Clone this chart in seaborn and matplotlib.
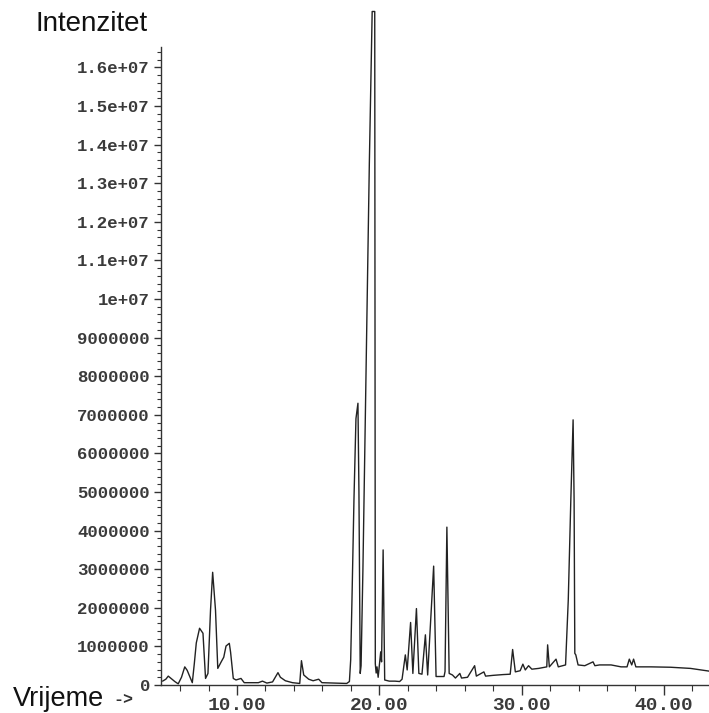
import matplotlib
matplotlib.use("Agg")
import matplotlib.pyplot as plt
from matplotlib.ticker import MultipleLocator, FuncFormatter
import pandas as pd
import seaborn as sns


# retention time (min) and detector signal (millions of counts)
time_min = [
    4.77, 5.0, 5.17, 5.4, 5.63, 5.87, 6.1, 6.33, 6.5, 6.68, 6.86,
    7.0, 7.14, 7.37, 7.61, 7.79, 7.96, 8.14, 8.29, 8.49, 8.65,
    8.89, 9.07, 9.23, 9.46, 9.55, 9.74, 9.93, 10.1, 10.28, 10.51,
    11.0, 11.5, 11.79, 12.1, 12.5, 12.88, 13.05, 13.4, 13.9, 14.41,
    14.53, 14.69, 15.04, 15.35, 15.74, 15.97, 16.8, 17.71, 17.9,
    17.99, 18.08, 18.22, 18.36, 18.5, 18.57, 18.66, 18.72, 18.85,
    19.0, 19.15, 19.3, 19.5, 19.68, 19.7, 19.72, 19.78, 19.84, 19.92,
    20.1, 20.16, 20.27, 20.38, 20.7, 21.1, 21.43, 21.6, 21.83, 21.96,
    22.2, 22.36, 22.61, 22.78, 23.0, 23.24, 23.4, 23.82, 23.99, 24.3,
    24.55, 24.62, 24.75, 24.91, 25.14, 25.35, 25.66, 25.78, 26.2, 26.7,
    26.82, 27.35, 27.47, 28.0, 28.7, 29.2, 29.37, 29.56, 29.9, 30.09,
    30.26, 30.49, 30.72, 31.2, 31.77, 31.83, 31.95, 32.42, 32.58, 33.09,
    33.28, 33.46, 33.62, 33.69, 33.74, 33.81, 33.97, 34.44, 35.02, 35.15,
    35.48, 35.83, 36.29, 36.99, 37.41, 37.57, 37.74, 37.87, 38.03, 39.08,
    40.47, 41.87, 43.17,
]
signal_m = [
    0.10, 0.15, 0.23, 0.16, 0.09, 0.03, 0.20, 0.47, 0.38, 0.22, 0.06,
    0.55, 1.09, 1.47, 1.34, 0.17, 0.30, 1.94, 2.92, 1.94, 0.43,
    0.60, 0.72, 1.01, 1.08, 0.85, 0.17, 0.13, 0.15, 0.17, 0.06,
    0.06, 0.06, 0.10, 0.05, 0.08, 0.32, 0.20, 0.11, 0.06, 0.04,
    0.63, 0.26, 0.15, 0.11, 0.15, 0.06, 0.05, 0.04, 0.09,
    0.65, 2.20, 4.80, 6.90, 7.30, 5.00, 0.30, 0.50, 3.00,
    6.50, 10.0, 13.5, 17.45, 17.45, 9.00, 0.55, 0.31, 0.47, 0.20,
    0.86, 0.60, 3.50, 0.13, 0.10, 0.10, 0.09, 0.15, 0.78, 0.39,
    1.62, 0.30, 1.98, 0.30, 0.28, 1.30, 0.26, 3.08, 0.22, 0.22,
    0.22, 0.35, 4.09, 0.30, 0.26, 0.18, 0.30, 0.18, 0.20, 0.50,
    0.23, 0.34, 0.23, 0.25, 0.27, 0.28, 0.92, 0.34, 0.37, 0.54,
    0.39, 0.50, 0.41, 0.43, 0.47, 1.04, 0.47, 0.67, 0.47, 0.52,
    2.20, 4.80, 6.87, 4.80, 0.82, 0.78, 0.52, 0.50, 0.60, 0.50,
    0.52, 0.52, 0.52, 0.47, 0.47, 0.67, 0.52, 0.67, 0.47, 0.47,
    0.46, 0.43, 0.36,
]

y_max = 16.53e6
x_lim = (4.66, 43.17)

df = pd.DataFrame({"time": time_min, "intensity": [v * 1e6 for v in signal_m]})

sns.set_style("ticks")
plt.rcParams["font.family"] = ["Liberation Sans", "DejaVu Sans"]

fig = plt.figure(figsize=(7.09, 7.13), dpi=100)
ax = fig.add_axes([161 / 709, 28 / 713, 548 / 709, 638 / 713])

sns.lineplot(data=df, x="time", y="intensity", ax=ax, color="#222222",
             linewidth=1.0, estimator=None, sort=False, clip_on=False)

ax.set_xlim(*x_lim)
ax.set_ylim(0, y_max)
ax.set_xlabel("")
ax.set_ylabel("")

ax.xaxis.set_major_locator(MultipleLocator(10))
ax.xaxis.set_minor_locator(MultipleLocator(2))
ax.yaxis.set_major_locator(MultipleLocator(1e6))
ax.yaxis.set_minor_locator(MultipleLocator(2e5))
ax.xaxis.set_major_formatter(FuncFormatter(lambda v, p: "%.2f" % v))
ax.yaxis.set_major_formatter(FuncFormatter(lambda v, p: "%.7g" % v))

for side in ["top", "right"]:
    ax.spines[side].set_visible(False)
for side in ["left", "bottom"]:
    ax.spines[side].set_color("#333333")
    ax.spines[side].set_linewidth(1.0)

ax.tick_params(axis="y", which="major", length=5, width=1, color="#333333", pad=3)
ax.tick_params(axis="y", which="minor", length=3, width=0.8, color="#333333")
ax.tick_params(axis="x", which="major", length=7, width=1, color="#333333", pad=2)
ax.tick_params(axis="x", which="minor", length=4, width=0.8, color="#333333")
for lab in ax.get_yticklabels():
    lab.set_fontfamily("Liberation Mono")
    lab.set_fontweight("bold")
    lab.set_fontsize(12.5)
    lab.set_color("#3a3a3a")
for lab in ax.get_xticklabels():
    lab.set_fontfamily("Liberation Mono")
    lab.set_fontweight("bold")
    lab.set_fontsize(14)
    lab.set_color("#3a3a3a")

fig.text(36 / 709, 1 - 24 / 713, "Intenzitet", ha="left", va="center",
         fontsize=20, color="#111111")
fig.text(13 / 709, 1 - 699 / 713, "Vrijeme", ha="left", va="center",
         fontsize=19.5, color="#111111")
fig.text(113 / 709, 1 - 700 / 713, "->", ha="left", va="center",
         fontsize=12, family="Liberation Mono", weight="bold", color="#333333")

fig.savefig("out.png", dpi=100)
